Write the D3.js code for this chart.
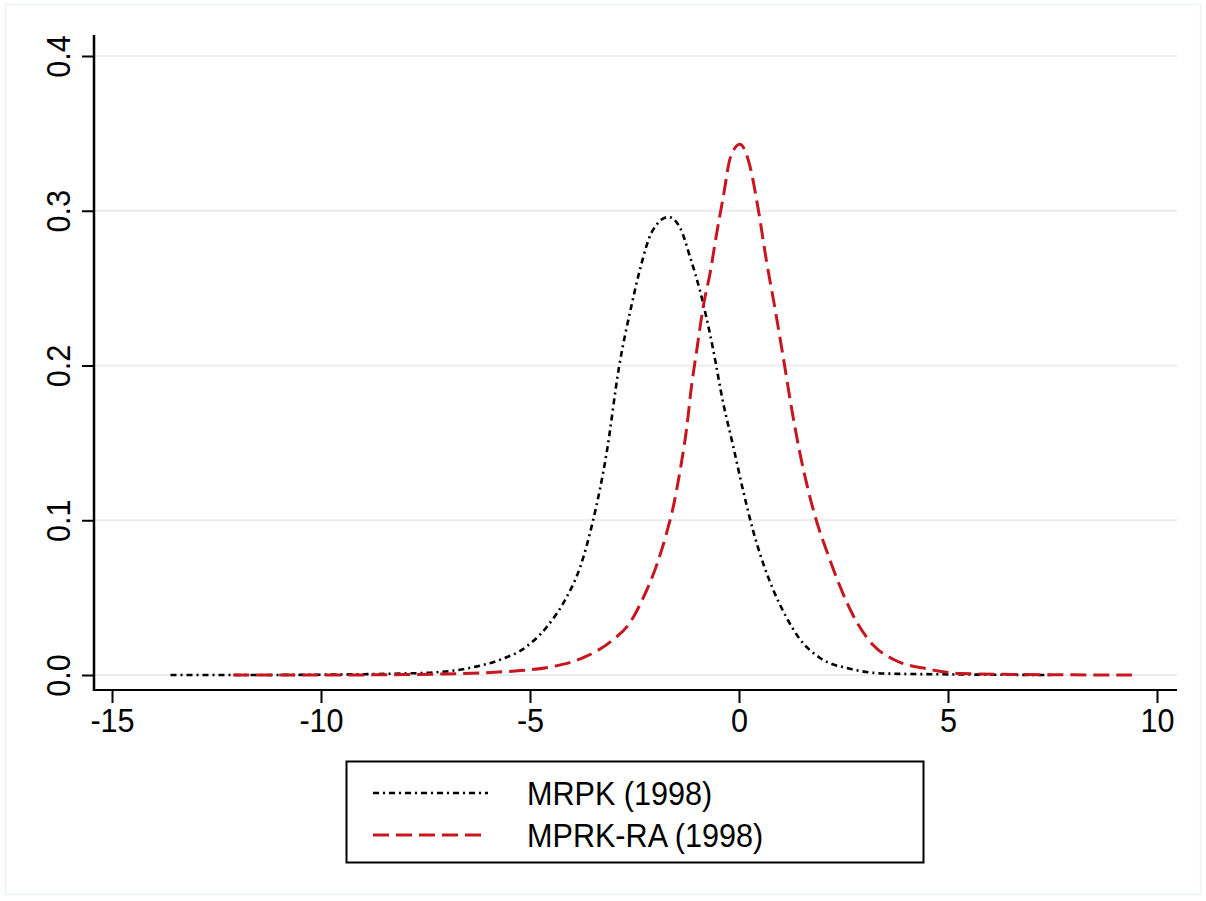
<!DOCTYPE html>
<html>
<head>
<meta charset="utf-8">
<title>MRPK density</title>
<script src="https://d3js.org/d3.v7.min.js"></script>
<style>
  body { margin:0; background:#fff; }
  text { font-family: "Liberation Sans", Arial, sans-serif; }
</style>
</head>
<body>
<svg id="chart" width="1206" height="901"></svg>
<script>
"use strict";

// kernel density estimates
const mrpkX = [-13.6, -12, -10, -9, -8, -7.4, -6.45, -5.73, -5.1, -4.6, -4.13, -3.81, -3.49, -3.17, -2.87,
  -2.57, -2.37, -2.09, -1.69, -1.41, -1.17, -0.93, -0.63, -0.38, -0.14, 0.1, 0.34, 0.58, 0.82, 1.14,
  1.46, 1.94, 2.66, 3.46, 4.66, 6, 7.5];
const mrpkY = [0, 0, 0.0002, 0.0005, 0.001, 0.0015, 0.0045, 0.0097, 0.018, 0.031, 0.050, 0.069, 0.100, 0.143, 0.199,
  0.239, 0.262, 0.286, 0.296, 0.289, 0.270, 0.248, 0.212, 0.176, 0.148, 0.119, 0.093, 0.072, 0.055, 0.037,
  0.023, 0.011, 0.004, 0.001, 0.0005, 0.0002, 0];

const raX = [-12.1, -10, -8, -7, -6.2, -5.42, -4.46, -3.66, -3.05, -2.58, -2.29, -1.97, -1.73, -1.57, -1.41,
  -1.25, -1.13, -1.01, -0.85, -0.69, -0.53, -0.37, -0.21, 0.02, 0.26, 0.46, 0.66, 0.86, 1.06, 1.26,
  1.46, 1.66, 1.86, 2.10, 2.42, 2.74, 3.22, 3.70, 4.50, 5.30, 6.5, 8, 9.4];
const raY = [0, 0, 0.0003, 0.0007, 0.0013, 0.0025, 0.0054, 0.012, 0.022, 0.035, 0.050, 0.071, 0.092, 0.109, 0.132,
  0.160, 0.188, 0.210, 0.239, 0.260, 0.286, 0.310, 0.334, 0.343, 0.329, 0.301, 0.267, 0.237, 0.205, 0.172,
  0.143, 0.119, 0.099, 0.080, 0.057, 0.038, 0.019, 0.010, 0.004, 0.001, 0.0004, 0.0001, 0];

const xTicks = [-15, -10, -5, 0, 5, 10];
const yTicks = [0, 0.1, 0.2, 0.3, 0.4];
const seriesNames = ["MRPK (1998)", "MPRK-RA (1998)"];

const svg = d3.select("#chart");
const fontSize = 34, squeeze = 0.9;   // tall, narrow glyphs as in the source

// faint graph-region border
svg.append("rect")
  .attr("x", 5.5).attr("y", 4.5).attr("width", 1195).attr("height", 890)
  .attr("fill", "#fff").attr("stroke", "#eef1f3").attr("stroke-width", 1.5);

const xScale = d3.scaleLinear().domain([-15, 10]).range([112, 1157]);
const yScale = d3.scaleLinear().domain([0, 0.4]).range([675, 56]);

const plotLeft = 94, plotRight = 1177, plotTop = 35, plotBottom = 690;

// grid lines
svg.append("g").selectAll("line")
  .data(yTicks).enter().append("line")
  .attr("x1", plotLeft).attr("x2", plotRight)
  .attr("y1", d => yScale(d)).attr("y2", d => yScale(d))
  .attr("stroke", "#eaeced").attr("stroke-width", 2);

// y axis
const yAxis = svg.append("g")
  .attr("transform", `translate(${plotLeft},0)`)
  .call(d3.axisLeft(yScale).tickValues(yTicks).tickFormat(d3.format(".1f")).tickSize(12).tickSizeOuter(0));
yAxis.select(".domain").remove();
yAxis.selectAll(".tick line").attr("stroke", "#000").attr("stroke-width", 2);
yAxis.selectAll(".tick text")
  .attr("font-size", fontSize).attr("fill", "#000")
  .attr("text-anchor", "middle")
  .attr("x", null).attr("dy", null)
  .attr("transform", `translate(-24,0) rotate(-90) scale(${squeeze},1)`);

// x axis
const xAxis = svg.append("g")
  .attr("transform", `translate(0,${plotBottom})`)
  .call(d3.axisBottom(xScale).tickValues(xTicks).tickFormat(d => String(d)).tickSize(13).tickSizeOuter(0));
xAxis.select(".domain").remove();
xAxis.selectAll(".tick line").attr("stroke", "#000").attr("stroke-width", 2);
xAxis.selectAll(".tick text")
  .attr("font-size", fontSize).attr("fill", "#000")
  .attr("y", 18).attr("dy", "0.71em")
  .attr("transform", `scale(${squeeze},1)`);

// axis lines
svg.append("line").attr("x1", plotLeft).attr("x2", plotLeft)
  .attr("y1", plotTop).attr("y2", plotBottom + 1)
  .attr("stroke", "#000").attr("stroke-width", 2.5);
svg.append("line").attr("x1", plotLeft).attr("x2", plotRight)
  .attr("y1", plotBottom).attr("y2", plotBottom)
  .attr("stroke", "#000").attr("stroke-width", 2);

const line = d3.line()
  .x(d => xScale(d[0]))
  .y(d => yScale(d[1]))
  .curve(d3.curveMonotoneX);

const series = [
  { name: seriesNames[0], pts: d3.zip(mrpkX, mrpkY), color: "#000", dash: "6,4,2,4", width: 2.6 },
  { name: seriesNames[1], pts: d3.zip(raX, raY), color: "#c8161e", dash: "16,7", width: 3 }
];

svg.append("g").selectAll("path")
  .data(series).enter().append("path")
  .attr("d", d => line(d.pts))
  .attr("fill", "none")
  .attr("stroke", d => d.color)
  .attr("stroke-width", d => d.width)
  .attr("stroke-dasharray", d => d.dash);

// legend
const legend = svg.append("g");
legend.append("rect")
  .attr("x", 346.5).attr("y", 761.5).attr("width", 577).attr("height", 101)
  .attr("fill", "#fff").attr("stroke", "#000").attr("stroke-width", 2);

const items = legend.selectAll("g.item")
  .data(series).enter().append("g")
  .attr("class", "item")
  .attr("transform", (d, i) => `translate(0,${793 + i * 42})`);
items.append("line")
  .attr("x1", 373).attr("x2", 488)
  .attr("stroke", d => d.color)
  .attr("stroke-width", d => d.width)
  .attr("stroke-dasharray", d => d.dash);
items.append("text")
  .attr("dy", "0.36em")
  .attr("transform", `translate(527,0) scale(${squeeze},1)`)
  .attr("font-size", fontSize).attr("fill", "#000")
  .text(d => d.name);
</script>
</body>
</html>
